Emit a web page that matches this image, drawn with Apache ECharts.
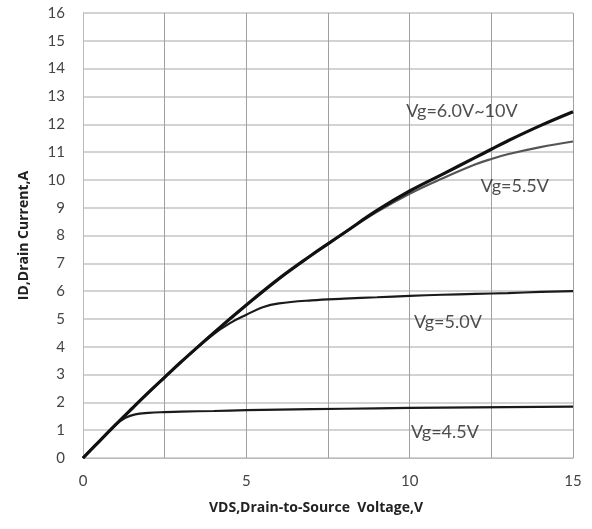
<!DOCTYPE html>
<html>
<head>
<meta charset="utf-8">
<script src="https://cdn.jsdelivr.net/npm/echarts@6/dist/echarts.min.js"></script>
<style>html,body{margin:0;padding:0;background:#fff;}#c{width:592px;height:529px;}</style>
</head>
<body>
<div id="c"></div>
<script>
// Vg = 6.0V ~ 10V
const vds_main = [0, 0.5, 1, 1.5, 2, 2.5, 3, 4, 5, 6, 7, 7.5, 8, 9, 10, 11, 12, 12.5, 13, 14, 15];
const id_main  = [0, 0.6, 1.2, 1.78, 2.35, 2.9, 3.45, 4.5, 5.5, 6.45, 7.3, 7.7, 8.1, 8.9, 9.6, 10.2, 10.8, 11.1, 11.4, 11.95, 12.45];
// Vg = 5.5V
const vds_55 = [0, 1, 2, 3, 4, 5, 6, 7, 8, 9, 10, 11, 12, 12.5, 13, 14, 15];
const id_55  = [0, 1.2, 2.35, 3.45, 4.5, 5.5, 6.45, 7.3, 8.1, 8.85, 9.5, 10.05, 10.55, 10.75, 10.92, 11.18, 11.38];
// Vg = 5.0V
const vds_50 = [0, 1, 2, 3, 4, 4.5, 5, 5.5, 6, 7, 8, 9, 10, 11, 12, 13, 14, 15];
const id_50  = [0, 1.2, 2.35, 3.45, 4.45, 4.85, 5.15, 5.42, 5.56, 5.67, 5.73, 5.78, 5.83, 5.87, 5.9, 5.93, 5.97, 6.0];
// Vg = 4.5V
const vds_45 = [0, 0.5, 1, 1.3, 1.6, 2, 2.5, 3, 4, 5, 6, 8, 10, 12, 15];
const id_45  = [0, 0.6, 1.2, 1.45, 1.57, 1.62, 1.65, 1.67, 1.69, 1.72, 1.74, 1.77, 1.8, 1.82, 1.85];

// curve annotations (text, anchor in data coordinates)
const labelTexts = ['Vg=6.0V~10V', 'Vg=5.5V', 'Vg=5.0V', 'Vg=4.5V'];
const labelX = [11.6, 13.22, 11.17, 11.08];
const labelY = [12.48, 9.78, 4.89, 0.94];

const xTicks = [0, 5, 10, 15];

const zip = (xs, ys) => xs.map((x, i) => [x, ys[i]]);
const font = 'Lato, "Open Sans", sans-serif';
const boldFont = '"Open Sans", Lato, sans-serif';

const chart = echarts.init(document.getElementById('c'), null, {renderer: 'canvas'});
const mkSeries = (name, data, color, width) => ({
  name, type: 'line', data, showSymbol: false, smooth: 0.4, z: 3,
  lineStyle: {color, width}, itemStyle: {color}
});
chart.setOption({
  animation: false,
  backgroundColor: '#fff',
  grid: {left: 83, top: 13, right: 19, bottom: 71, containLabel: false},
  xAxis: {
    type: 'value', min: 0, max: 15, interval: 2.5,
    name: 'VDS,Drain-to-Source  Voltage,V', nameLocation: 'middle', nameGap: 43,
    nameTextStyle: {fontFamily: boldFont, fontWeight: 'bold', fontSize: 14, color: '#222', padding: [0, 24, 0, 0]},
    axisLine: {show: true, lineStyle: {color: '#bbb', width: 1}},
    axisTick: {show: false},
    axisLabel: {fontFamily: font, fontSize: 15, color: '#444', margin: 16,
      formatter: v => xTicks.includes(v) ? String(v) : ''},
    splitLine: {show: true, lineStyle: {color: '#a0a0a0', width: 1}}
  },
  yAxis: {
    type: 'value', min: 0, max: 16, interval: 1,
    name: 'ID,Drain Current,A', nameLocation: 'middle', nameGap: 52,
    nameTextStyle: {fontFamily: boldFont, fontWeight: 'bold', fontSize: 14, color: '#222'},
    axisLine: {show: true, lineStyle: {color: '#bbb', width: 1}},
    axisTick: {show: false},
    axisLabel: {fontFamily: font, fontSize: 15, color: '#444', margin: 18},
    splitLine: {show: true, lineStyle: {color: '#c4c4c4', width: 1.5}}
  },
  series: [
    mkSeries('Vg=4.5V', zip(vds_45, id_45), '#1a1a1a', 2.2),
    mkSeries('Vg=5.0V', zip(vds_50, id_50), '#1a1a1a', 2.2),
    mkSeries('Vg=5.5V', zip(vds_55, id_55), '#555', 2.2),
    mkSeries('Vg=6.0V~10V', zip(vds_main, id_main), '#111', 3.2),
    {
      type: 'scatter', symbolSize: 0, z: 5,
      data: labelTexts.map((t, i) => ({value: [labelX[i], labelY[i]], name: t})),
      label: {show: true, position: 'inside', formatter: p => p.name,
        fontFamily: font, fontSize: 18, color: '#222'}
    }
  ]
});
</script>
</body>
</html>
